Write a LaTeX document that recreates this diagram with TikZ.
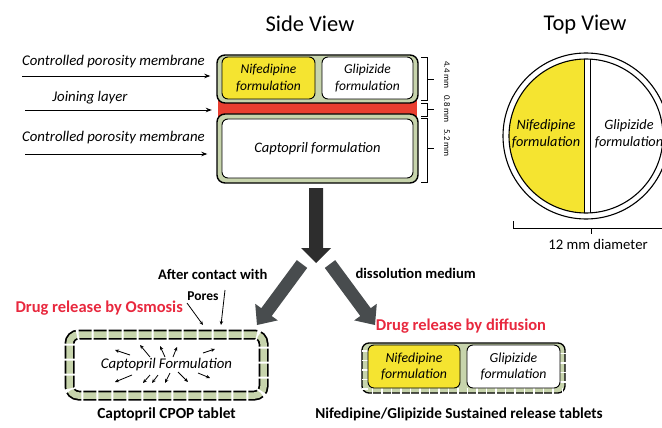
\documentclass[tikz,border=0pt]{standalone}
\usepackage{fontspec}
\setmainfont{Carlito}
\usetikzlibrary{arrows.meta}
\definecolor{sage}{RGB}{199,212,172}
\definecolor{nyel}{RGB}{245,228,48}
\definecolor{jred}{RGB}{233,62,48}
\definecolor{tred}{RGB}{232,40,62}
\definecolor{darr}{RGB}{45,45,45}
\definecolor{garr}{RGB}{72,76,78}
\begin{document}
\begin{tikzpicture}[x=1pt,y=-1pt,
  ttl/.style={font=\fontsize{22.5}{26}\selectfont},
  lbl/.style={font=\fontsize{14.8}{17}\selectfont\itshape},
  frm/.style={font=\fontsize{13.5}{16.5}\selectfont\itshape, align=center},
  frms/.style={font=\fontsize{14.3}{17}\selectfont\itshape, align=center},
  frmr/.style={font=\fontsize{13.8}{16.5}\selectfont\itshape, align=center},
  bld/.style={font=\fontsize{14.6}{17}\selectfont\bfseries},
  redt/.style={font=\fontsize{16.5}{19}\selectfont\bfseries, text=tred},
  dim/.style={font=\fontsize{8.8}{10}\selectfont, rotate=-90},
  shell/.style={draw, line width=1.4pt, fill=sage, rounded corners=8pt, inner sep=0pt},
  fbox/.style={draw, line width=0.9pt, rounded corners=6pt, inner sep=0pt},
  thinarr/.style={line width=0.9pt, -{Stealth[length=6pt,width=4.5pt]}},
  smallarr/.style={line width=0.8pt, -{Stealth[length=4pt,width=3.5pt]}},
  brk/.style={line width=0.9pt}
]
\useasboundingbox (0,0) rectangle (662,428);

% titles
\node[ttl] (sv) at (310,24) {Side View};
\node[ttl] (tpv) at (585,25) {Top View};

% side view tablet
\node[fill=jred, minimum width=199pt, minimum height=17pt, inner sep=0pt] (join) at (317.5,108.5) {};
\node[shell, minimum width=201pt, minimum height=48pt] (top) at (317.5,79) {};
\node[shell, minimum width=201pt, minimum height=69pt] (bot) at (317.5,148.5) {};
\node[fbox, fill=nyel, minimum width=93pt, minimum height=42pt, frm] (nif) at (268.5,78) {Nifedipine\\formulation};
\node[fbox, fill=white, minimum width=91pt, minimum height=42pt, frm] (gli) at (367.5,78) {Glipizide\\formulation};
\node[fbox, fill=white, minimum width=191pt, minimum height=59pt, font=\fontsize{14.5}{17}\selectfont\itshape] (capf) at (317.5,148.5) {Captopril formulation};

% left labels
\node[lbl] (l1) at (113.5,62) {Controlled porosity membrane};
\node[lbl] (l2) at (90,98) {Joining layer};
\node[lbl] (l3) at (113.5,138) {Controlled porosity membrane};
\coordinate (a1) at (22,76);
\coordinate (a2) at (25,110);
\coordinate (a3) at (25,154);
\draw[thinarr, shorten >=6pt] (a1) -- (a1 -| top.west);
\draw[thinarr, shorten >=6pt] (a2) -- (a2 -| join.west);
\draw[thinarr, shorten >=9pt] (a3) -- (a3 -| bot.west);

% dimension brackets
\draw[brk] (421,57) -- (427,57) -- (427,100) -- (421,100);
\draw[brk] (427,79) -- (434,79);
\draw[brk] (421,103) -- (427,103) -- (427,116) -- (421,116);
\draw[brk] (427,109.5) -- (434,109.5);
\draw[brk] (421,118) -- (427,118) -- (427,182) -- (421,182);
\draw[brk] (427,148) -- (434,148);
\node[dim] (d1) at (447,75) {4.4 mm};
\node[dim] (d2) at (447,109) {0.8 mm};
\node[dim] (d3) at (447,143) {5.2 mm};

% top view
\node[circle, draw, line width=1.1pt, minimum size=166pt, inner sep=0pt] (tv) at (586,136) {};
\begin{scope}
  \clip (586,136) circle[radius=77];
  \fill[nyel] (500,50) rectangle (584,230);
  \draw[line width=1pt] (584,50) -- (584,230);
  \draw[line width=1pt] (590,50) -- (590,230);
\end{scope}
\node[circle, draw, line width=1.1pt, minimum size=154pt, inner sep=0pt] (tvin) at (586,136) {};
\node[frms] (tnif) at (546,134) {Nifedipine\\formulation};
\node[frms] (tgli) at (629,134) {Glipizide\\formulation};
\draw[brk] (513,221) -- (513,228) -- (665,228);
\draw[brk] (591,228) -- (591,234);
\node[font=\fontsize{14.7}{17}\selectfont] (diam) at (598,244) {12 mm diameter};

% big arrows
\fill[darr] (309,188) -- (323,188) -- (323,248) -- (331,248) -- (316,263) -- (301,248) -- (309,248) -- cycle;
\fill[garr] (296.8,260.1) -- (307.2,267.9) -- (271.7,316.0) -- (277.8,320.4) -- (257,325) -- (255.2,303.8) -- (261.3,308.2) -- cycle;
\fill[garr] (335.2,260.1) -- (324.8,267.9) -- (360.3,316.0) -- (354.2,320.4) -- (375,325) -- (376.8,303.8) -- (370.7,308.2) -- cycle;
\node[bld, anchor=east] (after) at (271,274) {After contact with};
\node[bld, anchor=west] (diss) at (352,273) {dissolution medium};

% captopril CPOP tablet
\node[redt, anchor=west] (osm) at (12,308) {Drug release by Osmosis};
\node[font=\fontsize{13.5}{16}\selectfont\bfseries] (pores) at (203,296) {Pores};
\node[minimum width=194pt, minimum height=61pt, inner sep=0pt, font=\fontsize{14.8}{17}\selectfont\itshape] (cap) at (166.5,365) {Captopril Formulation};
\draw[line width=10pt, rounded corners=9pt] (69.5,334.5) rectangle (263.5,395.5);
\draw[sage, line width=6.5pt, rounded corners=9pt] (69.5,334.5) rectangle (263.5,395.5);
\draw[white, line width=11pt, dash pattern=on 2pt off 13pt, rounded corners=9pt] (69.5,334.5) rectangle (263.5,395.5);
\coordinate (p1) at (203,325);
\coordinate (p2) at (221,325);
\draw[smallarr] (187,303) -- (p1);
\draw[smallarr] (225,290) -- (p2);
\foreach \sx/\sy/\dx/\dy in {-36.5/-10/-15/-5, -16.5/-8/-10/-12, -1.5/-8/-5/-11, 6.5/-8/4/-10, 36.5/-12/12/-4,
  -34.5/10/-17/7, -16.5/10/-7/8, -8.5/10/-6/8, 3.5/8/-5/10, 11.5/7/10/10, 31.5/8/12/5}
  \draw[smallarr] ([shift={(\sx,\sy)}]cap.center) -- ++(\dx,\dy);
\node[font=\fontsize{15.4}{18}\selectfont\bfseries] (capt) at (166.5,414) {Captopril CPOP tablet};

% sustained release tablet
\node[redt] (diff) at (461,326) {Drug release by diffusion};
\node[draw, line width=1.3pt, fill=sage, rounded corners=7pt, minimum width=203pt, minimum height=50pt, inner sep=0pt] (sr) at (463.5,368) {};
\draw[white, line width=6pt, dash pattern=on 1.5pt off 8pt] (364.5,350) -- (364.5,390.5) -- (563,390.5) -- (563,350);
\node[fbox, fill=nyel, minimum width=92pt, minimum height=43pt, frmr] (snif) at (414,366.5) {Nifedipine\\formulation};
\node[fbox, fill=white, minimum width=93pt, minimum height=43pt, frmr] (sgli) at (513.5,366.5) {Glipizide\\formulation};
\node[font=\fontsize{15.2}{18}\selectfont\bfseries] (srt) at (459,414) {Nifedipine/Glipizide Sustained release tablets};
\end{tikzpicture}
\end{document}
